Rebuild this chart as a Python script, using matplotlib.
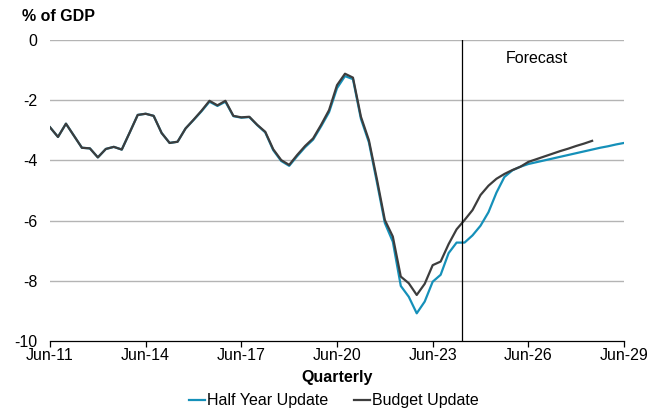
import matplotlib
matplotlib.use("Agg")
import matplotlib.pyplot as plt

plt.rcParams['font.family'] = ['Liberation Sans', 'DejaVu Sans']

# Quarterly series, Jun-11 .. Jun-29 (index 0 = Jun-11)
budget_update = [
    -2.90, -3.22, -2.78, -3.18, -3.58, -3.60, -3.90, -3.62, -3.55, -3.64,
    -3.07, -2.49, -2.45, -2.52, -3.09, -3.42, -3.38, -2.94, -2.65, -2.35,
    -2.02, -2.17, -2.02, -2.52, -2.57, -2.55, -2.82, -3.05, -3.63, -3.99,
    -4.15, -3.82, -3.52, -3.27, -2.82, -2.33, -1.50, -1.12, -1.25, -2.55,
    -3.33, -4.62, -5.98, -6.53, -7.86, -8.08, -8.47, -8.10, -7.48, -7.36,
    -6.78, -6.29, -5.98, -5.65, -5.15, -4.84, -4.61, -4.45, -4.32, -4.21,
    -4.05, -3.96, -3.87, -3.78, -3.69, -3.61, -3.52, -3.44, -3.35,
]
half_year_update = [
    -2.90, -3.22, -2.78, -3.18, -3.58, -3.60, -3.90, -3.62, -3.55, -3.64,
    -3.07, -2.49, -2.45, -2.52, -3.09, -3.42, -3.38, -2.94, -2.66, -2.37,
    -2.05, -2.19, -2.05, -2.53, -2.58, -2.56, -2.83, -3.07, -3.66, -4.02,
    -4.18, -3.86, -3.56, -3.31, -2.87, -2.40, -1.60, -1.20, -1.30, -2.62,
    -3.40, -4.72, -6.08, -6.70, -8.17, -8.53, -9.08, -8.69, -8.03, -7.80,
    -7.08, -6.73, -6.73, -6.49, -6.17, -5.72, -5.07, -4.55, -4.33, -4.21,
    -4.12, -4.06, -4.00, -3.94, -3.88, -3.82, -3.76, -3.70, -3.64, -3.58,
    -3.53, -3.47, -3.42,
]
tick_labels = ['Jun-11', 'Jun-14', 'Jun-17', 'Jun-20', 'Jun-23', 'Jun-26', 'Jun-29']
tick_positions = [0, 12, 24, 36, 48, 60, 72]
y_ticks = [0, -2, -4, -6, -8, -10]
forecast_start = 51.7

FS = 11.5

fig = plt.figure(figsize=(6.53, 4.12), dpi=100)
ax = fig.add_axes([0.0766, 0.1723, 0.8790, 0.7306])

for y in y_ticks[:-1]:
    ax.axhline(y, color='#b4b4b4', lw=1.0, zorder=1)

ax.plot(range(len(half_year_update)), half_year_update, color='#1590b9', lw=1.6,
        label='Half Year Update', zorder=3)
ax.plot(range(len(budget_update)), budget_update, color='#3d3d3d', lw=1.6,
        label='Budget Update', zorder=4)
ax.axvline(forecast_start, color='black', lw=0.9, zorder=5)

ax.set_xlim(0, 72)
ax.set_ylim(-10, 0)
ax.set_xticks(tick_positions)
ax.set_xticklabels(tick_labels)
ax.set_yticks(y_ticks)
ax.set_yticklabels([str(v) for v in y_ticks])

for side in ['left', 'right', 'top']:
    ax.spines[side].set_visible(False)
ax.spines['bottom'].set_color('black')
ax.spines['bottom'].set_linewidth(0.9)

ax.tick_params(axis='x', direction='out', length=4, width=0.9, pad=1, labelsize=FS)
ax.tick_params(axis='y', length=0, pad=9, labelsize=FS)

ax.set_xlabel('Quarterly', fontsize=FS, fontweight='bold', labelpad=5)
fig.text(0.034, 0.959, '% of GDP', fontsize=FS, fontweight='bold', va='center', ha='left')
ax.text(61.1, -0.6, 'Forecast', fontsize=FS, ha='center', va='center')

fig.legend(loc='center', bbox_to_anchor=(0.511, 0.027), ncol=2, frameon=False,
           fontsize=FS, handlelength=1.0, handletextpad=0.15, columnspacing=1.6)

fig.savefig('out.png', dpi=100)
